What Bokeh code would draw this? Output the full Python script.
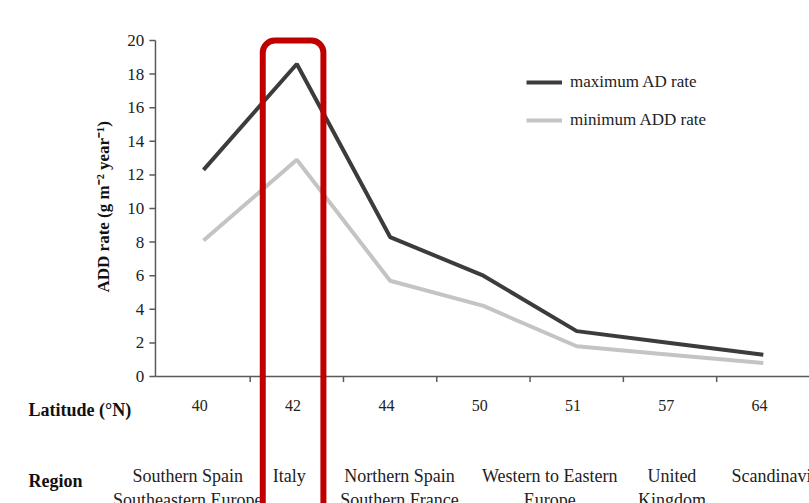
import math
from bokeh.plotting import figure
from bokeh.models import Range1d, BoxAnnotation, Legend, LegendItem
from bokeh.core.properties import value
from bokeh.embed import file_html
from bokeh.resources import INLINE

latitudes = ["40", "42", "44", "50", "51", "57", "64"]
max_rate = [12.3, 18.6, 8.3, 6.0, 2.7, 2.0, 1.3]
min_rate = [8.1, 12.9, 5.7, 4.2, 1.8, 1.3, 0.8]
regions = ["Southern Spain\nSoutheastern Europe", "Italy", "Northern Spain\nSouthern France",
           "Western to Eastern\nEurope", "United\nKingdom", "Scandinavia"]
region_x = [-0.17, 0.92, 2.10, 3.71, 5.02, 6.13]
y_ticks = list(range(0, 21, 2))

FONT = value("Liberation Serif")
AX = "#5a5a5a"
TXT = "#222222"

x = list(range(len(latitudes)))
x_edges = [i + 0.5 for i in range(len(latitudes))]

# frame covers the whole canvas: 93.3 px per category, 16.8 px per y unit
p = figure(width=809, height=503, output_backend="svg", toolbar_location=None,
           x_range=Range1d(-2.176, 6.495), y_range=Range1d(-7.560, 22.381),
           x_axis_location=None, y_axis_location=None, min_border=0)
p.outline_line_color = None
p.xgrid.visible = False
p.ygrid.visible = False

y_axis_x = -0.515
x_end = 6.5

# y axis
p.segment(x0=[y_axis_x], y0=[y_ticks[0]], x1=[y_axis_x], y1=[y_ticks[-1]],
          line_color=AX, line_width=1.5)
p.segment(x0=[y_axis_x] * len(y_ticks), y0=y_ticks, x1=[y_axis_x - 0.065] * len(y_ticks), y1=y_ticks,
          line_color=AX, line_width=1.5)
p.text(x=[y_axis_x - 0.12] * len(y_ticks), y=y_ticks, text=[str(t) for t in y_ticks],
       text_align="right", text_baseline="middle", text_font=FONT,
       text_font_size="17px", text_color=TXT)
p.text(x=[-1.072], y=[10.1], text=["ADD rate (g m\u207b\u00b2 year\u207b\u00b9)"], angle=math.pi / 2,
       text_align="center", text_baseline="middle", text_font=FONT,
       text_font_size="17px", text_font_style="bold", text_color="#111111")

# x axis
p.segment(x0=[y_axis_x], y0=[0], x1=[x_end], y1=[0], line_color=AX, line_width=1.5)
p.segment(x0=x_edges, y0=[0] * len(x_edges), x1=x_edges, y1=[-0.33] * len(x_edges),
          line_color=AX, line_width=1.5)
p.text(x=[i - 0.04 for i in x], y=[-1.75] * len(x), text=latitudes,
       text_align="center", text_baseline="middle", text_font=FONT,
       text_font_size="16px", text_color=TXT)

# region row
p.text(x=region_x, y=[-5.3] * len(regions), text=regions, text_align="center",
       text_baseline="top", text_font=FONT, text_font_size="18px", text_color=TXT,
       text_line_height=1.2)
p.text(x=[-1.876], y=[-2.02], text=["Latitude (\u00b0N)"], text_align="left",
       text_baseline="middle", text_font=FONT, text_font_size="18px",
       text_font_style="bold", text_color="#111111")
p.text(x=[-1.876], y=[-6.25], text=["Region"], text_align="left",
       text_baseline="middle", text_font=FONT, text_font_size="18px",
       text_font_style="bold", text_color="#111111")

# data
r_max = p.line(x, max_rate, line_color="#3c3c3c", line_width=4)
r_min = p.line(x, min_rate, line_color="#c4c4c4", line_width=4)

legend = Legend(items=[LegendItem(label="maximum AD rate", renderers=[r_max]),
                       LegendItem(label="minimum ADD rate", renderers=[r_min])],
                location=(526, 373), glyph_width=36, glyph_height=20, spacing=18,
                padding=0, margin=0, label_standoff=8,
                label_text_font="Liberation Serif", label_text_font_size="17px",
                label_text_color=TXT, border_line_color=None, background_fill_alpha=0)
p.add_layout(legend)

# highlight box around Italy
p.add_layout(BoxAnnotation(left=0.635, right=1.285, top=20.0, bottom=-9.0,
                           fill_alpha=0, line_color="#c00000", line_alpha=1.0,
                           line_width=6, border_radius=12))

open("out.html", "w").write(file_html(p, INLINE))
